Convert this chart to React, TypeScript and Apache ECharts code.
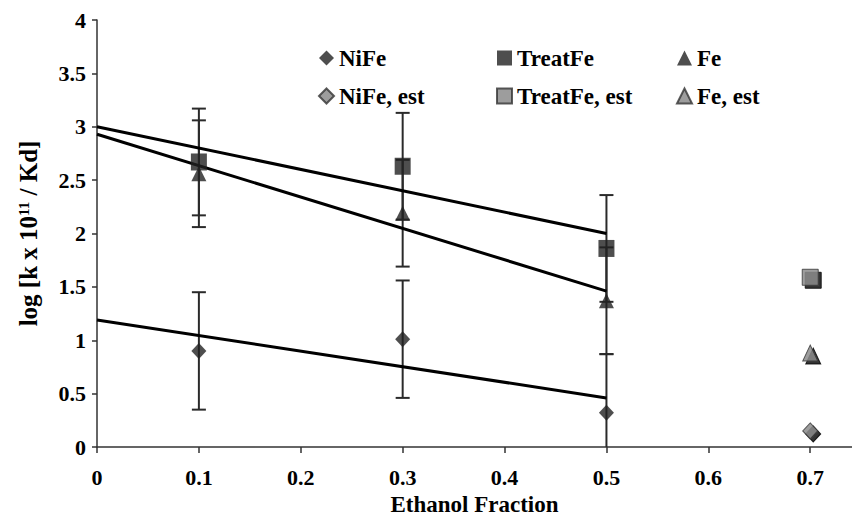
import React, { useEffect, useRef } from 'react';
import * as echarts from 'echarts';

// Observed data
const X_OBS = [0.1, 0.3, 0.5];
const NIFE = [0.9, 1.01, 0.32];
const TREATFE = [2.67, 2.63, 1.86];
const FE = [2.56, 2.19, 1.37];
const NIFE_ERR = [0.55, 0.55, 0.55];
const TREATFE_ERR = [0.5, 0.5, 0.5];
const FE_ERR = [0.5, 0.5, 0.5];

// Estimated data
const X_EST = [0.7];
const NIFE_EST = [0.15];
const TREATFE_EST = [1.59];
const FE_EST = [0.88];

// Trend lines
const TREND_X = [0, 0.5];
const NIFE_TREND = [1.19, 0.46];
const TREATFE_TREND = [3.0, 2.0];
const FE_TREND = [2.93, 1.46];

const FONT = '"Liberation Serif", "Times New Roman", serif';
const DARK = '#222';
const GRAY = '#858585';

const pts = (xs: number[], ys: number[]) => xs.map((x, i) => [x, ys[i]]);
const errs = (xs: number[], ys: number[], e: number[]) =>
  xs.map((x, i) => [x, ys[i] - e[i], ys[i] + e[i]]);

const errSeries = (name: string, data: number[][]) => ({
  type: 'custom',
  name,
  data,
  z: 1,
  silent: true,
  clip: true,
  encode: { x: 0, y: [1, 2] },
  renderItem: (_p: any, api: any) => {
    const x = api.value(0);
    const lo = api.coord([x, api.value(1)]);
    const hi = api.coord([x, api.value(2)]);
    const hw = 7;
    const st = { stroke: '#2a2a2a', lineWidth: 2 };
    return {
      type: 'group',
      children: [
        { type: 'line', shape: { x1: lo[0], y1: lo[1], x2: hi[0], y2: hi[1] }, style: st },
        { type: 'line', shape: { x1: hi[0] - hw, y1: hi[1], x2: hi[0] + hw, y2: hi[1] }, style: st },
        { type: 'line', shape: { x1: lo[0] - hw, y1: lo[1], x2: lo[0] + hw, y2: lo[1] }, style: st },
      ],
    };
  },
});

const trendSeries = (name: string, ys: number[]) => ({
  type: 'line',
  name,
  data: pts(TREND_X, ys),
  symbol: 'none',
  z: 3,
  silent: true,
  lineStyle: { color: '#000', width: 3 },
});

const obsSeries = (name: string, ys: number[], symbol: string, size: any) => ({
  type: 'scatter',
  name,
  data: pts(X_OBS, ys),
  symbol,
  symbolSize: size,
  z: 4,
  itemStyle: { color: DARK },
});

const estSeries = (name: string, ys: number[], symbol: string, size: any) => ({
  type: 'scatter',
  name,
  data: pts(X_EST, ys),
  symbol,
  symbolSize: size,
  z: 4,
  itemStyle: {
    color: GRAY,
    borderColor: '#333',
    borderWidth: 1,
    shadowColor: '#000',
    shadowBlur: 0,
    shadowOffsetX: 3,
    shadowOffsetY: 3,
  },
});

const legendBase = {
  orient: 'vertical',
  top: 41,
  itemWidth: 15,
  itemHeight: 15,
  itemGap: 14,
  textStyle: {
    fontFamily: FONT,
    fontWeight: 'bold',
    fontSize: 23,
    color: '#000',
    lineHeight: 24,
  },
  itemStyle: { shadowBlur: 0, shadowColor: 'rgba(0,0,0,0)', shadowOffsetX: 0, shadowOffsetY: 0 },
};

export default function App() {
  const ref = useRef<HTMLDivElement>(null);
  useEffect(() => {
    if (!ref.current) return;
    const chart = echarts.init(ref.current, null, { renderer: 'svg' });
    chart.setOption({
      animation: false,
      backgroundColor: '#fff',
      grid: { left: 97, right: 0, top: 20, bottom: 69, outerBoundsMode: 'none', containLabel: false },
      legend: [
        { ...legendBase, left: 313, data: ['NiFe', 'NiFe, est'] },
        { ...legendBase, left: 491, data: ['TreatFe', 'TreatFe, est'] },
        { ...legendBase, left: 671, data: ['Fe', 'Fe, est'] },
      ],
      xAxis: {
        type: 'value',
        min: 0,
        max: 0.741,
        interval: 0.1,
        name: 'Ethanol Fraction',
        nameLocation: 'middle',
        nameGap: 41,
        nameTextStyle: { fontFamily: FONT, fontWeight: 'bold', fontSize: 23, color: '#000' },
        axisLine: { show: true, lineStyle: { color: '#333', width: 1.5 } },
        axisTick: { show: true, length: 6, lineStyle: { color: '#333', width: 1.5 } },
        axisLabel: {
          showMaxLabel: false,
          margin: 19,
          fontFamily: FONT,
          fontWeight: 'bold',
          fontSize: 22,
          color: '#000',
        },
        splitLine: { show: false },
      },
      yAxis: {
        type: 'value',
        min: 0,
        max: 4,
        interval: 0.5,
        name: 'log [k x 10{sup|11} / Kd]',
        nameLocation: 'middle',
        nameGap: 56,
        nameRotate: 90,
        nameTextStyle: {
          fontFamily: FONT,
          fontWeight: 'bold',
          fontSize: 25,
          color: '#000',
          rich: {
            sup: {
              fontFamily: FONT,
              fontWeight: 'bold',
              fontSize: 15,
              color: '#000',
              verticalAlign: 'top',
              lineHeight: 25,
            },
          },
        },
        axisLine: { show: true, lineStyle: { color: '#333', width: 1.5 } },
        axisTick: { show: true, length: 5, lineStyle: { color: '#333', width: 1.5 } },
        axisLabel: {
          margin: 11,
          fontFamily: FONT,
          fontWeight: 'bold',
          fontSize: 22,
          color: '#000',
        },
        splitLine: { show: false },
      },
      series: [
        errSeries('NiFe err', errs(X_OBS, NIFE, NIFE_ERR)),
        errSeries('TreatFe err', errs(X_OBS, TREATFE, TREATFE_ERR)),
        errSeries('Fe err', errs(X_OBS, FE, FE_ERR)),
        trendSeries('NiFe trend', NIFE_TREND),
        trendSeries('TreatFe trend', TREATFE_TREND),
        trendSeries('Fe trend', FE_TREND),
        obsSeries('NiFe', NIFE, 'diamond', [15, 16]),
        obsSeries('TreatFe', TREATFE, 'rect', [16, 17]),
        obsSeries('Fe', FE, 'triangle', [15, 15]),
        estSeries('NiFe, est', NIFE_EST, 'diamond', [15, 16]),
        estSeries('TreatFe, est', TREATFE_EST, 'rect', [16, 16]),
        estSeries('Fe, est', FE_EST, 'triangle', [15, 16]),
      ],
    });
    return () => chart.dispose();
  }, []);
  return (
    <div
      ref={ref}
      style={{ position: 'absolute', left: 0, top: 0, width: 852, height: 516 }}
    />
  );
}
